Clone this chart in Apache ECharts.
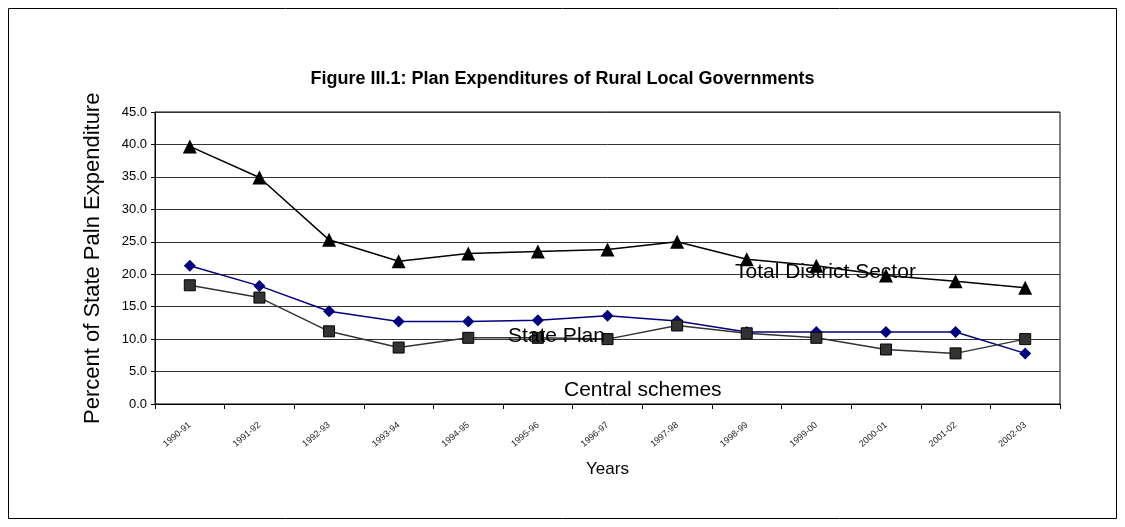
<!DOCTYPE html>
<html>
<head>
<meta charset="utf-8">
<script src="https://cdn.jsdelivr.net/npm/echarts@6/dist/echarts.min.js"></script>
<style>
  html, body { margin: 0; padding: 0; background: #fff; }
  #main { width: 1125px; height: 527px; }
</style>
</head>
<body>
<div id="main"></div>
<script>
var years = ["1990-91", "1991-92", "1992-93", "1993-94", "1994-95", "1995-96", "1996-97",
  "1997-98", "1998-99", "1999-00", "2000-01", "2001-02", "2002-03"];
var totalDistrict = [39.7, 34.9, 25.3, 22.0, 23.2, 23.5, 23.8, 25.0, 22.3, 21.3, 19.8, 18.9, 17.9];
var statePlan = [21.3, 18.2, 14.3, 12.7, 12.7, 12.9, 13.6, 12.8, 11.1, 11.1, 11.1, 11.1, 7.8];
var centralSchemes = [18.3, 16.4, 11.2, 8.7, 10.2, 10.2, 10.0, 12.1, 10.9, 10.2, 8.4, 7.8, 10.0];
var yTicks = { min: 0, max: 45, interval: 5 };

var font = "'Liberation Sans', Arial, sans-serif";

(function () {
  var chart = echarts.init(document.getElementById("main"));
  var option = {
    animation: false,
    backgroundColor: "#fff",
    textStyle: { fontFamily: font },
    title: {
      text: "Figure III.1: Plan Expenditures of Rural Local Governments",
      left: "center",
      top: 65,
      textStyle: { fontSize: 18, fontWeight: "bold", color: "#000", fontFamily: font }
    },
    grid: {
      left: 155,
      right: 65,
      top: 112,
      bottom: 123,
      show: true,
      borderColor: "#000",
      borderWidth: 1
    },
    xAxis: {
      type: "category",
      data: years,
      boundaryGap: true,
      name: "Years",
      nameLocation: "middle",
      nameGap: 57,
      nameTextStyle: { fontSize: 17, color: "#000", fontFamily: font },
      axisLine: { lineStyle: { color: "#000", width: 1 } },
      axisTick: { show: true, length: 5, lineStyle: { color: "#000" } },
      axisLabel: { rotate: 40, fontSize: 9, color: "#222", margin: 20, fontFamily: font }
    },
    yAxis: {
      type: "value",
      min: yTicks.min,
      max: yTicks.max,
      interval: yTicks.interval,
      axisLine: { show: true, lineStyle: { color: "#000", width: 1 } },
      axisTick: { show: true, length: 4, lineStyle: { color: "#000" } },
      axisLabel: {
        fontSize: 13,
        color: "#000",
        margin: 8,
        fontFamily: font,
        formatter: function (v) { return v.toFixed(1); }
      },
      splitLine: { show: true, lineStyle: { color: "#333", width: 1 } }
    },
    series: [
      {
        name: "Total District Sector",
        type: "line",
        data: totalDistrict,
        symbol: "triangle",
        symbolSize: 14,
        lineStyle: { color: "#000", width: 1.5 },
        itemStyle: { color: "#000" }
      },
      {
        name: "State Plan",
        type: "line",
        data: statePlan,
        symbol: "diamond",
        symbolSize: 12,
        lineStyle: { color: "#000080", width: 1.5 },
        itemStyle: { color: "#000080" }
      },
      {
        name: "Central schemes",
        type: "line",
        data: centralSchemes,
        symbol: "rect",
        symbolSize: 11,
        lineStyle: { color: "#333", width: 1.5 },
        itemStyle: { color: "#333", borderColor: "#000", borderWidth: 1 }
      }
    ],
    graphic: [
      {
        type: "rect",
        shape: { x: 8.5, y: 8.5, width: 1108, height: 510 },
        style: { fill: "none", stroke: "#000", lineWidth: 1 },
        silent: true
      },
      {
        type: "text", x: 93, y: 424, rotation: Math.PI / 2,
        style: {
          text: "Percent of State Paln Expenditure", fontSize: 22, fill: "#000",
          fontFamily: font, align: "left", verticalAlign: "middle"
        }
      },
      {
        type: "text", x: 735, y: 272, z: 100,
        style: { text: "Total District Sector", fontSize: 21, fill: "#000", fontFamily: font, verticalAlign: "middle" }
      },
      {
        type: "text", x: 508, y: 336, z: 100,
        style: { text: "State Plan", fontSize: 21, fill: "#000", fontFamily: font, verticalAlign: "middle" }
      },
      {
        type: "text", x: 564, y: 390, z: 100,
        style: { text: "Central schemes", fontSize: 21, fill: "#000", fontFamily: font, verticalAlign: "middle" }
      }
    ]
  };
  chart.setOption(option);
})();
</script>
</body>
</html>
